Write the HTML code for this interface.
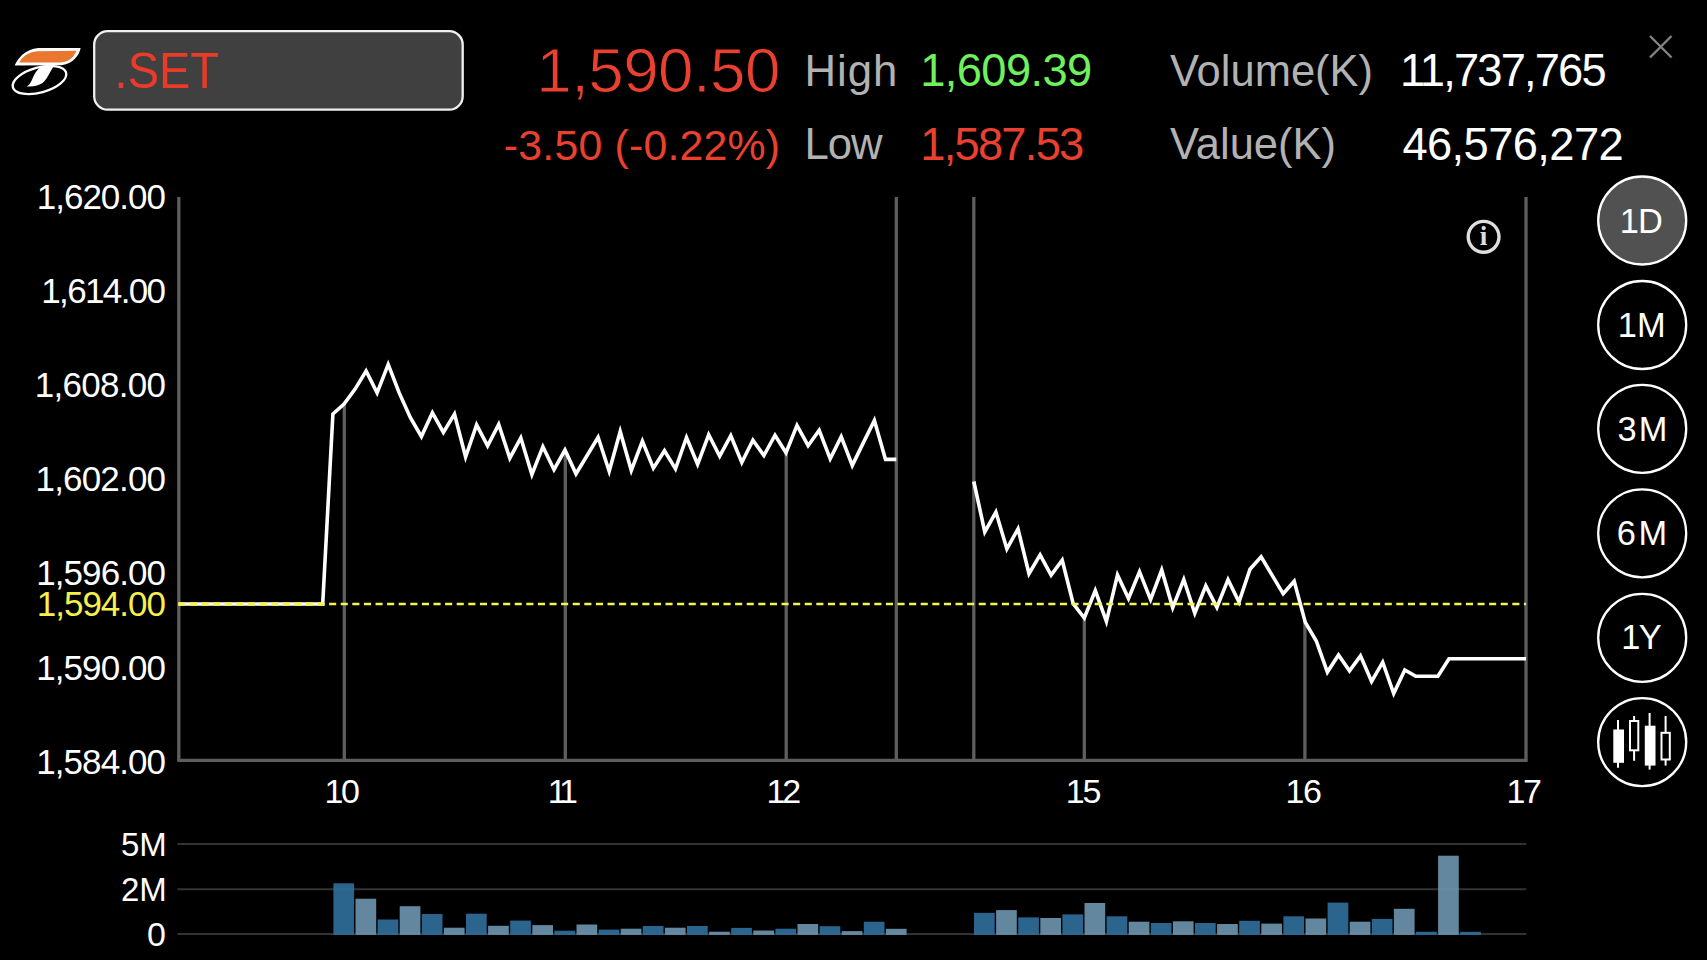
<!DOCTYPE html>
<html lang="en">
<head>
<meta charset="utf-8">
<title>.SET</title>
<style>
html,body{margin:0;padding:0;background:#000;width:1707px;height:960px;overflow:hidden}
svg{display:block;position:absolute;left:0;top:0}
svg text{font-family:"Liberation Sans",sans-serif;white-space:pre}
</style>
</head>
<body>
<svg width="1707" height="960" viewBox="0 0 1707 960">
<rect width="1707" height="960" fill="#000"/>
<line x1="177.5" y1="844.1" x2="1526.3" y2="844.1" stroke="#333" stroke-width="2"/>
<line x1="177.5" y1="889.3" x2="1526.3" y2="889.3" stroke="#333" stroke-width="2"/>
<line x1="177.5" y1="934.0" x2="1526.3" y2="934.0" stroke="#333" stroke-width="2"/>
<rect x="333.4" y="883.3" width="20.7" height="51.6" fill="rgba(48,111,156,0.9)"/>
<rect x="355.5" y="898.7" width="20.7" height="36.2" fill="rgba(109,150,176,0.9)"/>
<rect x="377.6" y="919.5" width="20.7" height="15.4" fill="rgba(48,111,156,0.9)"/>
<rect x="399.7" y="906.2" width="20.7" height="28.7" fill="rgba(109,150,176,0.9)"/>
<rect x="421.8" y="914.0" width="20.7" height="20.9" fill="rgba(48,111,156,0.9)"/>
<rect x="443.9" y="927.7" width="20.7" height="7.2" fill="rgba(109,150,176,0.9)"/>
<rect x="466.0" y="913.7" width="20.7" height="21.2" fill="rgba(48,111,156,0.9)"/>
<rect x="488.1" y="925.8" width="20.7" height="9.1" fill="rgba(109,150,176,0.9)"/>
<rect x="510.2" y="920.6" width="20.7" height="14.3" fill="rgba(48,111,156,0.9)"/>
<rect x="532.3" y="925.1" width="20.7" height="9.8" fill="rgba(109,150,176,0.9)"/>
<rect x="554.4" y="930.7" width="20.7" height="4.2" fill="rgba(48,111,156,0.9)"/>
<rect x="576.5" y="924.5" width="20.7" height="10.4" fill="rgba(109,150,176,0.9)"/>
<rect x="598.6" y="929.6" width="20.7" height="5.3" fill="rgba(48,111,156,0.9)"/>
<rect x="620.7" y="928.7" width="20.7" height="6.2" fill="rgba(109,150,176,0.9)"/>
<rect x="642.8" y="926.0" width="20.7" height="8.9" fill="rgba(48,111,156,0.9)"/>
<rect x="664.9" y="927.7" width="20.7" height="7.2" fill="rgba(109,150,176,0.9)"/>
<rect x="687.0" y="926.0" width="20.7" height="8.9" fill="rgba(48,111,156,0.9)"/>
<rect x="709.1" y="931.7" width="20.7" height="3.2" fill="rgba(109,150,176,0.9)"/>
<rect x="731.2" y="927.9" width="20.7" height="7.0" fill="rgba(48,111,156,0.9)"/>
<rect x="753.3" y="930.5" width="20.7" height="4.4" fill="rgba(109,150,176,0.9)"/>
<rect x="775.4" y="928.7" width="20.7" height="6.2" fill="rgba(48,111,156,0.9)"/>
<rect x="797.5" y="924.0" width="20.7" height="10.9" fill="rgba(109,150,176,0.9)"/>
<rect x="819.6" y="926.2" width="20.7" height="8.7" fill="rgba(48,111,156,0.9)"/>
<rect x="841.7" y="931.1" width="20.7" height="3.8" fill="rgba(109,150,176,0.9)"/>
<rect x="863.8" y="921.7" width="20.7" height="13.2" fill="rgba(48,111,156,0.9)"/>
<rect x="885.9" y="928.8" width="20.7" height="6.1" fill="rgba(109,150,176,0.9)"/>
<rect x="974.0" y="912.9" width="20.7" height="22.0" fill="rgba(48,111,156,0.9)"/>
<rect x="996.1" y="910.1" width="20.7" height="24.8" fill="rgba(109,150,176,0.9)"/>
<rect x="1018.2" y="917.4" width="20.7" height="17.5" fill="rgba(48,111,156,0.9)"/>
<rect x="1040.3" y="918.0" width="20.7" height="16.9" fill="rgba(109,150,176,0.9)"/>
<rect x="1062.4" y="914.4" width="20.7" height="20.5" fill="rgba(48,111,156,0.9)"/>
<rect x="1084.5" y="903.0" width="20.7" height="31.9" fill="rgba(109,150,176,0.9)"/>
<rect x="1106.6" y="916.3" width="20.7" height="18.6" fill="rgba(48,111,156,0.9)"/>
<rect x="1128.7" y="921.7" width="20.7" height="13.2" fill="rgba(109,150,176,0.9)"/>
<rect x="1150.8" y="923.0" width="20.7" height="11.9" fill="rgba(48,111,156,0.9)"/>
<rect x="1172.9" y="921.3" width="20.7" height="13.6" fill="rgba(109,150,176,0.9)"/>
<rect x="1195.0" y="923.0" width="20.7" height="11.9" fill="rgba(48,111,156,0.9)"/>
<rect x="1217.1" y="924.0" width="20.7" height="10.9" fill="rgba(109,150,176,0.9)"/>
<rect x="1239.2" y="920.8" width="20.7" height="14.1" fill="rgba(48,111,156,0.9)"/>
<rect x="1261.3" y="923.6" width="20.7" height="11.3" fill="rgba(109,150,176,0.9)"/>
<rect x="1283.4" y="916.3" width="20.7" height="18.6" fill="rgba(48,111,156,0.9)"/>
<rect x="1305.5" y="918.5" width="20.7" height="16.4" fill="rgba(109,150,176,0.9)"/>
<rect x="1327.6" y="902.6" width="20.7" height="32.3" fill="rgba(48,111,156,0.9)"/>
<rect x="1349.7" y="921.7" width="20.7" height="13.2" fill="rgba(109,150,176,0.9)"/>
<rect x="1371.8" y="918.9" width="20.7" height="16.0" fill="rgba(48,111,156,0.9)"/>
<rect x="1393.9" y="908.8" width="20.7" height="26.1" fill="rgba(109,150,176,0.9)"/>
<rect x="1416.0" y="931.7" width="20.7" height="3.2" fill="rgba(48,111,156,0.9)"/>
<rect x="1438.1" y="855.7" width="20.7" height="79.2" fill="rgba(109,150,176,0.9)"/>
<rect x="1460.2" y="931.8" width="20.7" height="3.1" fill="rgba(48,111,156,0.9)"/>
<line x1="178.8" y1="197.0" x2="178.8" y2="761.5999999999999" stroke="#5e5e5e" stroke-width="3.3"/>
<line x1="1526.0" y1="197.0" x2="1526.0" y2="761.5999999999999" stroke="#5e5e5e" stroke-width="3.3"/>
<line x1="177.5" y1="760.3" x2="1527.3" y2="760.3" stroke="#5e5e5e" stroke-width="3.3"/>
<line x1="896.3" y1="197.0" x2="896.3" y2="760.3" stroke="#5e5e5e" stroke-width="3.3"/>
<line x1="973.8" y1="197.0" x2="973.8" y2="760.3" stroke="#5e5e5e" stroke-width="3.3"/>
<line x1="344.3" y1="403.7" x2="344.3" y2="760.3" stroke="#5e5e5e" stroke-width="3.3"/>
<line x1="565.3" y1="450.6" x2="565.3" y2="760.3" stroke="#5e5e5e" stroke-width="3.3"/>
<line x1="786.2" y1="452.2" x2="786.2" y2="760.3" stroke="#5e5e5e" stroke-width="3.3"/>
<line x1="1084.3" y1="618.0" x2="1084.3" y2="760.3" stroke="#5e5e5e" stroke-width="3.3"/>
<line x1="1304.9" y1="620.9" x2="1304.9" y2="760.3" stroke="#5e5e5e" stroke-width="3.3"/>
<polyline points="178.8,604.0 322.7,604.0 332.9,414.0 344.0,404.1 355.1,389.1 366.1,371.0 377.1,392.8 388.2,364.4 399.2,392.9 410.3,417.5 421.4,436.6 432.4,412.8 443.4,432.5 454.5,414.1 465.6,457.0 476.6,424.9 487.6,445.9 498.7,424.4 509.8,458.2 520.8,437.8 531.9,474.5 542.9,446.7 554.0,469.7 565.0,450.0 576.0,473.8 587.1,455.5 598.1,437.3 609.2,471.3 620.2,431.5 631.3,470.5 642.4,441.2 653.4,468.2 664.5,450.7 675.5,468.9 686.5,437.5 697.6,464.3 708.7,434.8 719.7,456.2 730.8,435.7 741.8,462.5 752.9,440.2 763.9,455.5 775.0,435.2 786.0,452.7 797.0,425.4 808.1,445.7 819.2,430.3 830.2,458.8 841.2,436.6 852.3,465.4 863.4,442.6 874.4,420.5 885.5,459.4 896.3,459.4" fill="none" stroke="#fff" stroke-width="3.6" stroke-linejoin="miter" stroke-miterlimit="10"/>
<polyline points="973.8,481.5 984.8,532.0 995.9,512.1 1006.9,548.9 1018.0,528.9 1029.0,573.7 1040.1,554.9 1051.1,575.1 1062.2,560.2 1073.2,603.7 1084.3,618.0 1095.3,590.6 1106.4,621.4 1117.5,574.9 1128.5,598.5 1139.5,571.7 1150.6,599.6 1161.7,570.0 1172.7,607.6 1183.8,579.5 1194.8,613.2 1205.8,585.9 1216.9,607.4 1228.0,579.7 1239.0,602.1 1250.0,569.2 1261.1,556.8 1272.2,575.4 1283.2,593.8 1294.2,581.2 1305.3,622.4 1316.3,641.0 1327.4,672.1 1338.5,655.0 1349.5,670.8 1360.5,655.9 1371.6,681.5 1382.7,662.2 1393.7,693.6 1404.8,670.0 1415.8,676.3 1426.8,676.3 1437.9,676.3 1449.0,658.8 1460.0,658.8 1471.0,658.8 1482.1,658.8 1493.2,658.8 1504.2,658.8 1515.2,658.8 1526.0,658.8" fill="none" stroke="#fff" stroke-width="3.6" stroke-linejoin="miter" stroke-miterlimit="10"/>
<line x1="178.3" y1="604.05" x2="324.4" y2="604.05" stroke="#f6f24f" stroke-opacity="0.75" stroke-width="3.7" stroke-dasharray="7.1 4.5"/>
<line x1="178.3" y1="604.05" x2="1526.0" y2="604.05" stroke="#f6f24f" stroke-width="2.5" stroke-dasharray="7.1 4.5"/>
<text x="165.0" y="209.1" font-size="35" fill="#fff" text-anchor="end" letter-spacing="-1.0">1,620.00</text>
<text x="164.35" y="303.2" font-size="35" fill="#fff" text-anchor="end" letter-spacing="-1.65">1,614.00</text>
<text x="165.27" y="397.3" font-size="35" fill="#fff" text-anchor="end" letter-spacing="-0.73">1,608.00</text>
<text x="165.17" y="491.3" font-size="35" fill="#fff" text-anchor="end" letter-spacing="-0.83">1,602.00</text>
<text x="165.07" y="585.4" font-size="35" fill="#fff" text-anchor="end" letter-spacing="-0.93">1,596.00</text>
<text x="165.07" y="679.5" font-size="35" fill="#fff" text-anchor="end" letter-spacing="-0.93">1,590.00</text>
<text x="165.07" y="773.6" font-size="35" fill="#fff" text-anchor="end" letter-spacing="-0.93">1,584.00</text>
<text x="165.0" y="616.4" font-size="35" fill="#f6f04e" text-anchor="end" letter-spacing="-1.0">1,594.00</text>
<text x="324.4" y="803.3" font-size="34" fill="#fff" text-anchor="start" letter-spacing="-2.4">10</text>
<text x="547.7" y="803.3" font-size="34" fill="#fff" text-anchor="start" letter-spacing="-5.0">11</text>
<text x="766.5" y="803.3" font-size="34" fill="#fff" text-anchor="start" letter-spacing="-3.1">12</text>
<text x="1065.7" y="803.3" font-size="34" fill="#fff" text-anchor="start" letter-spacing="-2.2">15</text>
<text x="1285.5" y="803.3" font-size="34" fill="#fff" text-anchor="start" letter-spacing="-1.5">16</text>
<text x="1506.6" y="803.3" font-size="34" fill="#fff" text-anchor="start" letter-spacing="-2.4">17</text>
<text x="166.8" y="855.7" font-size="33" fill="#fff" text-anchor="end">5M</text>
<text x="166.8" y="900.9" font-size="33" fill="#fff" text-anchor="end">2M</text>
<text x="165.8" y="946.0" font-size="34" fill="#fff" text-anchor="end">0</text>
<text x="779.8" y="92.0" font-size="63.8" fill="#ea4030" text-anchor="end" letter-spacing="-0.6" stroke="#000" stroke-width="1.0">1,590.50</text>
<text x="780.2" y="159.5" font-size="42.8" fill="#ea4030" text-anchor="end" letter-spacing="0.2">-3.50 (-0.22%)</text>
<text x="804.5" y="85.7" font-size="43.7" fill="#b2b2b2" text-anchor="start" letter-spacing="1.0">High</text>
<text x="804.5" y="159.4" font-size="43.7" fill="#b2b2b2" text-anchor="start" letter-spacing="-1.0">Low</text>
<text x="920.2" y="85.8" font-size="45.3" fill="#6ff05c" text-anchor="start" letter-spacing="-0.6">1,609.39</text>
<text x="920.2" y="159.5" font-size="45.3" fill="#ea4030" text-anchor="start" letter-spacing="-1.75">1,587.53</text>
<text x="1170.0" y="85.7" font-size="43.5" fill="#b2b2b2" text-anchor="start">Volume(K)</text>
<text x="1170.0" y="159.4" font-size="43.5" fill="#b2b2b2" text-anchor="start">Value(K)</text>
<text x="1399.9" y="85.8" font-size="45.3" fill="#fff" text-anchor="start" letter-spacing="-1.85">11,737,765</text>
<text x="1402.4" y="159.5" font-size="45.3" fill="#fff" text-anchor="start" letter-spacing="-0.6">46,576,272</text>
<path d="M1650 36 L1671.5 57.5 M1671.5 36 L1650 57.5" stroke="#828282" stroke-width="2.4" fill="none"/>
<rect x="94.2" y="31.2" width="368.5" height="78.5" rx="13.5" ry="13.5" fill="#404040" stroke="#f0f0f0" stroke-width="2.3"/>
<text x="0" y="0" font-size="50" fill="#ea3a2a" text-anchor="start" transform="translate(114.6,88.3) scale(0.94,1)">.SET</text>
<g><path d="M14.7 65.6 C17.5 58.5 25 49.5 38.5 48.1 L80.6 48.1 C79.5 54.5 74 63.5 61.5 65.3 Z" fill="#fff"/><path d="M19.2 62.6 C22 57 28 51.8 37.5 51.2 L76.4 50.7 C74.5 56 69.5 61.8 60.5 62.6 Z" fill="#e9772f"/><ellipse cx="39.5" cy="80" rx="27.6" ry="12.5" transform="rotate(-15.5 39.5 80)" fill="#000" stroke="#fff" stroke-width="2.3"/><path d="M41.9 66.2 L54.4 65.6 C51 69.5 49.5 75 45 80.6 C41.5 85 37 86.5 26.6 86.6 C30 84.5 31 82 31.9 80 C34 75 36 70 41.9 66.2 Z" fill="#fff"/></g>
<circle cx="1483.6" cy="236.8" r="15.4" fill="none" stroke="#dedede" stroke-width="3.4"/>
<text x="1483.6" y="245.2" style="font-family:'Liberation Serif',serif;font-weight:bold" font-size="27.3" fill="#dedede" text-anchor="middle">i</text>
<circle cx="1642.2" cy="220.5" r="44" fill="#515151" stroke="#fff" stroke-width="2.3"/>
<text x="1640.8" y="232.8" font-size="34.4" fill="#fff" text-anchor="middle" letter-spacing="-1.0">1D</text>
<circle cx="1642.2" cy="325.0" r="44" fill="none" stroke="#fff" stroke-width="2.3"/>
<text x="1641.7" y="336.7" font-size="34.4" fill="#fff" text-anchor="middle" letter-spacing="0">1M</text>
<circle cx="1642.2" cy="428.8" r="44" fill="none" stroke="#fff" stroke-width="2.3"/>
<text x="1643.4" y="441.1" font-size="34.4" fill="#fff" text-anchor="middle" letter-spacing="2.0">3M</text>
<circle cx="1642.2" cy="533.3" r="44" fill="none" stroke="#fff" stroke-width="2.3"/>
<text x="1643.2" y="545.3" font-size="34.4" fill="#fff" text-anchor="middle" letter-spacing="2.5">6M</text>
<circle cx="1642.2" cy="637.8" r="44" fill="none" stroke="#fff" stroke-width="2.3"/>
<text x="1640.7" y="649.4" font-size="34.4" fill="#fff" text-anchor="middle" letter-spacing="-1.5">1Y</text>
<circle cx="1642.2" cy="742.1" r="44" fill="none" stroke="#fff" stroke-width="2.4"/>
<g stroke="#fff" stroke-width="2" fill="#fff"><line x1="1618" y1="720" x2="1618" y2="767.7"/><rect x="1614.3" y="730.5" width="8.7" height="31.3"/><line x1="1634.1" y1="716" x2="1634.1" y2="721"/><line x1="1634.1" y1="751" x2="1634.1" y2="760.8"/><rect x="1630" y="721" width="8.3" height="29.3" fill="#000"/><line x1="1649.6" y1="713" x2="1649.6" y2="769.6"/><rect x="1645.8" y="726.7" width="8.7" height="37.9"/><line x1="1665.6" y1="716" x2="1665.6" y2="732.8"/><line x1="1665.6" y1="759.5" x2="1665.6" y2="765.6"/><rect x="1661.5" y="732.8" width="8.3" height="26.7" fill="#000"/></g>
</svg>
</body>
</html>
